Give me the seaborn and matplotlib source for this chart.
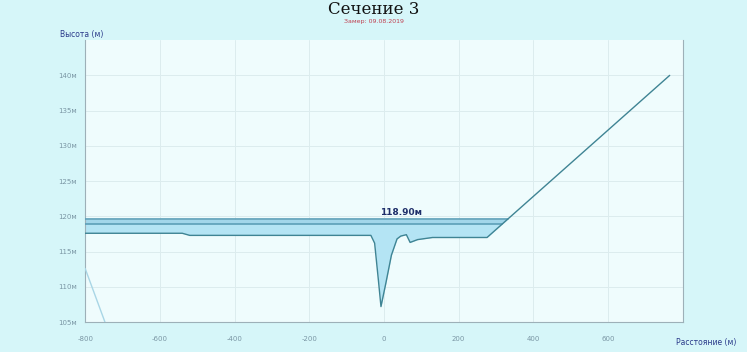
import matplotlib
matplotlib.use("Agg")
import matplotlib.pyplot as plt
import seaborn as sns
import pandas as pd
import numpy as np

# Cross-section profile (distance in m, elevation in m)
bed_x = [-800, -540, -520, -100, -35, -25, -15, -8, 5, 20, 35, 45, 60, 70, 90, 130, 276, 765]
bed_y = [117.6, 117.6, 117.3, 117.3, 117.3, 116.2, 111.0, 107.2, 110.5, 114.5, 116.8, 117.2, 117.4, 116.3, 116.7, 117.0, 117.0, 140.0]

# Secondary profile fragment at the left edge
aux_x = [-800, -747]
aux_y = [112.6, 105.0]

water_level = 118.90
upper_level = 119.60

x_ticks = [-800, -600, -400, -200, 0, 200, 400, 600]
y_ticks = [105, 110, 115, 120, 125, 130, 135, 140]

title = "Сечение 3"
subtitle = "Замер: 09.08.2019"
x_label = "Расстояние (м)"
y_label = "Высота (м)"

sns.set_theme(style="white")
plt.rcParams["font.family"] = ["DejaVu Sans"]

fig = plt.figure(figsize=(7.47, 3.52), dpi=100)
fig.patch.set_facecolor("#d6f6f9")
ax = fig.add_axes([0.114, 0.085, 0.800, 0.801])
ax.set_facecolor("#effcfd")

bed = pd.DataFrame({"x": bed_x, "y": bed_y})
aux = pd.DataFrame({"x": aux_x, "y": aux_y})

# Water body: between water level and bed where the bed lies below it
xx = np.linspace(bed_x[0], bed_x[-1], 4000)
yy = np.interp(xx, bed_x, bed_y)
ax.fill_between(xx, yy, water_level, where=yy <= water_level,
                color="#b4e4f4", lw=0, zorder=2, interpolate=True)

# Upper band between the two levels
def crossing(level):
    return np.interp(level, bed_y[-2:], bed_x[-2:])

x_w = crossing(water_level)
x_u = crossing(upper_level)
band_x = np.linspace(bed_x[0], x_u, 400)
band_lo = np.maximum(np.full_like(band_x, water_level), np.interp(band_x, bed_x, bed_y))
ax.fill_between(band_x, band_lo, upper_level, color="#a2d6ea", lw=0, zorder=2)
ax.plot([bed_x[0], x_u], [upper_level, upper_level], color="#5c9fb8", lw=1.2, zorder=3)
ax.plot([bed_x[0], x_w], [water_level, water_level], color="#5c9fb8", lw=1.2, zorder=3)

sns.lineplot(data=aux, x="x", y="y", ax=ax, color="#a9d6e6", lw=1.0, zorder=3)
sns.lineplot(data=bed, x="x", y="y", ax=ax, color="#3f8494", lw=1.0, zorder=4)

ax.text(-10, upper_level + 0.25, f"{water_level:.2f}м", ha="left", va="bottom",
        fontsize=6.5, fontweight="bold", color="#1f2f6a", zorder=5)

ax.set_xlim(-800, 800)
ax.set_ylim(105, 145)
ax.set_xticks(x_ticks)
ax.set_yticks(y_ticks)
ax.set_xticklabels([str(v) for v in x_ticks], fontsize=5, color="#7a96a4")
ax.set_yticklabels([f"{v}м" for v in y_ticks], fontsize=5, color="#7a96a4")
ax.set_xlabel("")
ax.set_ylabel("")
ax.tick_params(axis="x", length=3, width=0.6, color="#8aa0aa", pad=7, direction="out")
ax.tick_params(axis="y", length=3, width=0.6, color="#8aa0aa", pad=3, direction="out")
ax.grid(True, color="#dcecee", lw=0.7, zorder=0)
ax.spines["top"].set_visible(False)
for side in ["left", "bottom", "right"]:
    ax.spines[side].set_color("#9db0b8")
    ax.spines[side].set_linewidth(0.8)

fig.text(0.5, 1 - 0.5 / 352, title, ha="center", va="top", fontsize=12,
         family="DejaVu Serif", color="#111111")
fig.text(0.5, 1 - 21.5 / 352, subtitle, ha="center", va="center", fontsize=4.5,
         color="#c04050")
fig.text(60 / 747, 1 - 34 / 352, y_label, ha="left", va="center", fontsize=5.5,
         color="#2a3a8a")
fig.text(706 / 747, 1 - 343 / 352, x_label, ha="center", va="center", fontsize=5.5,
         color="#2a3a8a")

fig.savefig("out.png", dpi=100, facecolor=fig.get_facecolor())
